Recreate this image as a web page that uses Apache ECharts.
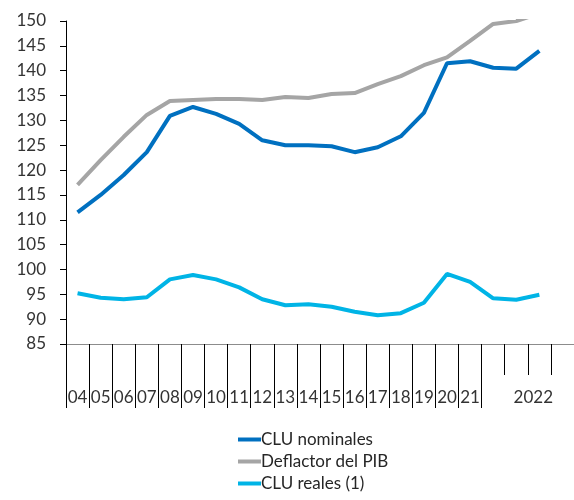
<!DOCTYPE html>
<html>
<head>
<meta charset="utf-8">
<script src="https://cdn.jsdelivr.net/npm/echarts@6/dist/echarts.min.js"></script>
<style>
  html, body { margin: 0; padding: 0; background: #fff; }
  #chart { width: 574px; height: 500px; }
</style>
</head>
<body>
<div id="chart"></div>
<script>
// categorias (años 04-21 y trimestres de 2022)
var categories = ['04', '05', '06', '07', '08', '09', '10', '11', '12', '13',
  '14', '15', '16', '17', '18', '19', '20', '21', '', '2022', '', ''];

var cluNominales = [111.5, 115.0, 119.0, 123.6, 130.9, 132.7, 131.3, 129.3, 126.0, 125.0,
  125.0, 124.8, 123.6, 124.6, 126.8, 131.5, 141.5, 141.9, 140.6, 140.4, 144.0];
var deflactorPib = [117.0, 122.0, 126.7, 131.1, 133.9, 134.1, 134.3, 134.3, 134.1, 134.7,
  134.5, 135.3, 135.5, 137.3, 138.9, 141.1, 142.7, 146.0, 149.4, 150.0, 151.5];
var cluReales = [95.2, 94.3, 94.0, 94.4, 98.0, 98.9, 98.0, 96.4, 94.0, 92.8,
  93.0, 92.5, 91.5, 90.8, 91.2, 93.3, 99.1, 97.5, 94.2, 93.9, 94.9];

var yTicks = { min: 85, max: 150, interval: 5 };

var chart = echarts.init(document.getElementById('chart'));

var font = 'Lato';

var option = {
  animation: false,
  grid: { left: 66, right: -5, top: 21, bottom: 156 },
  xAxis: [
    {
      type: 'category',
      data: categories,
      boundaryGap: true,
      axisLine: { show: true, lineStyle: { color: '#8c8c8c', width: 1 } },
      axisTick: {
        show: true,
        length: 64,
        interval: function (index) { return index <= 18; },
        lineStyle: { color: '#000', width: 1 }
      },
      axisLabel: {
        interval: 0,
        margin: 45,
        fontSize: 17,
        fontFamily: font,
        color: '#333',
        formatter: function (v) {
          return v === '2022' ? '{y|' + v + '}' : v;
        },
        rich: {
          y: { fontSize: 17, fontFamily: font, color: '#333', padding: [0, 0, 0, 34] }
        }
      }
    },
    {
      type: 'category',
      data: categories,
      position: 'bottom',
      boundaryGap: true,
      axisLine: { show: false },
      axisLabel: { show: false },
      axisTick: {
        show: true,
        length: 31,
        interval: function (index) { return index >= 19 && index <= 21; },
        lineStyle: { color: '#000', width: 1 }
      }
    }
  ],
  yAxis: {
    type: 'value',
    min: yTicks.min,
    max: yTicks.max,
    interval: yTicks.interval,
    splitLine: { show: false },
    axisLine: { show: true, lineStyle: { color: '#000', width: 1 } },
    axisTick: { show: true, length: 6, lineStyle: { color: '#000' } },
    axisLabel: { fontSize: 17, fontFamily: font, color: '#333', margin: 20 }
  },
  legend: {
    orient: 'vertical',
    left: 233,
    top: 426,
    itemWidth: 23,
    itemHeight: 4,
    itemGap: 5,
    icon: 'rect',
    textStyle: { fontSize: 17, fontFamily: font, color: '#262626', padding: [0, 0, 0, -5] },
    data: ['CLU nominales', 'Deflactor del PIB', 'CLU reales (1)']
  },
  series: [
    {
      name: 'CLU nominales',
      type: 'line',
      data: cluNominales,
      showSymbol: false,
      lineStyle: { width: 4, color: '#0070c0' },
      itemStyle: { color: '#0070c0' }
    },
    {
      name: 'Deflactor del PIB',
      type: 'line',
      data: deflactorPib,
      showSymbol: false,
      lineStyle: { width: 4, color: '#a5a5a5' },
      itemStyle: { color: '#a5a5a5' }
    },
    {
      name: 'CLU reales (1)',
      type: 'line',
      data: cluReales,
      showSymbol: false,
      lineStyle: { width: 4, color: '#00b4e6' },
      itemStyle: { color: '#00b4e6' }
    }
  ]
};

chart.setOption(option);
</script>
</body>
</html>
